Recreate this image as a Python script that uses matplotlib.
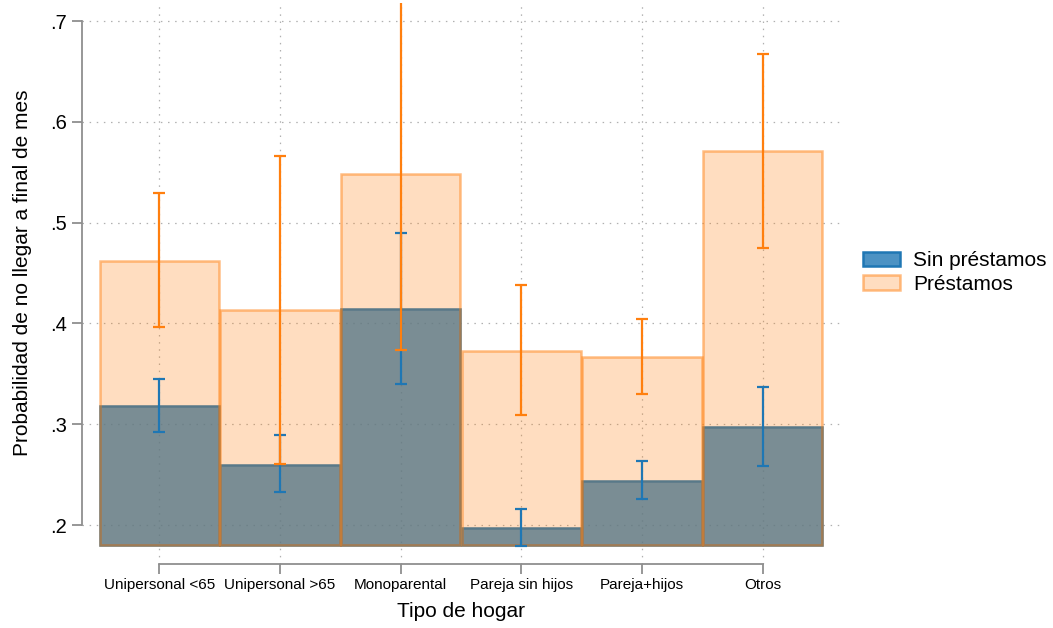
import numpy as np
import matplotlib
matplotlib.use("Agg")
import matplotlib.pyplot as plt

plt.rcParams['font.family'] = ['Liberation Sans', 'DejaVu Sans']

# Data
categorias = ["Unipersonal <65", "Unipersonal >65", "Monoparental",
              "Pareja sin hijos", "Pareja+hijos", "Otros"]
sin_prestamos = [0.318, 0.260, 0.414, 0.197, 0.244, 0.297]
sin_lo = [0.292, 0.233, 0.340, 0.179, 0.226, 0.259]
sin_hi = [0.345, 0.289, 0.490, 0.216, 0.264, 0.337]
prestamos = [0.462, 0.413, 0.548, 0.373, 0.367, 0.571]
pre_lo = [0.396, 0.261, 0.374, 0.309, 0.330, 0.475]
pre_hi = [0.529, 0.566, 0.722, 0.438, 0.404, 0.667]
base = 0.18

blue = (0.122, 0.467, 0.706)
orange = (1.0, 0.498, 0.055)

fig = plt.figure(figsize=(10.53, 6.28), dpi=100)
ax = fig.add_axes([0.0779, 0.1019, 0.7198, 0.8933])

x = np.arange(1, len(categorias) + 1)
sp = np.array(sin_prestamos)
pr = np.array(prestamos)

b1 = ax.bar(x, sp - base, bottom=base, width=0.99,
            facecolor=blue + (0.8,), edgecolor=blue, linewidth=1.8,
            label="Sin préstamos", zorder=2)
b2 = ax.bar(x, pr - base, bottom=base, width=0.99,
            facecolor=orange + (0.26,), edgecolor=orange + (0.5,), linewidth=1.8,
            label="Préstamos", zorder=3)

# confidence intervals
ax.errorbar(x, sp, yerr=[sp - np.array(sin_lo), np.array(sin_hi) - sp],
            fmt="none", ecolor=blue, elinewidth=1.6, capsize=4.5, capthick=1.6, zorder=4)
ax.errorbar(x, pr, yerr=[pr - np.array(pre_lo), np.array(pre_hi) - pr],
            fmt="none", ecolor=orange, elinewidth=1.6, capsize=4.5, capthick=1.6, zorder=5)

ax.set_xlim(0.36, 6.64)
ax.set_ylim(0.1613, 0.718)

yt = [0.2, 0.3, 0.4, 0.5, 0.6, 0.7]
ax.set_yticks(yt)
ax.set_yticklabels([".2", ".3", ".4", ".5", ".6", ".7"], fontsize=14.5)
ax.set_xticks(x)
ax.set_xticklabels(categorias, fontsize=11)

ax.grid(True, color="#b0b0b0", linestyle=(0, (1.2, 4.5)), linewidth=0.9, zorder=0)
ax.set_axisbelow(True)

for s in ["top", "right"]:
    ax.spines[s].set_visible(False)
ax.spines["left"].set_bounds(0.2, 0.7)
ax.spines["bottom"].set_bounds(1, 6)
for s in ["left", "bottom"]:
    ax.spines[s].set_color("#8f8f8f")
    ax.spines[s].set_linewidth(1.3)
ax.tick_params(axis="both", color="#8f8f8f", width=1.3, length=7)
ax.tick_params(axis="y", pad=4)
ax.tick_params(axis="x", pad=3)

ax.set_ylabel("Probabilidad de no llegar a final de mes", fontsize=15, labelpad=13)
# centre the label on the .2-.7 range, like the axis line
ax.yaxis.label.set_y((0.45 - 0.1613) / (0.718 - 0.1613))
ax.set_xlabel("Tipo de hogar", fontsize=15, labelpad=7)

fig.legend(handles=[b1, b2], loc="center left", bbox_to_anchor=(0.812, 0.566),
           frameon=False, fontsize=15, handlelength=1.75, handleheight=0.72,
           labelspacing=0.22, handletextpad=0.65, borderaxespad=0)

fig.savefig("out.png", dpi=100)
